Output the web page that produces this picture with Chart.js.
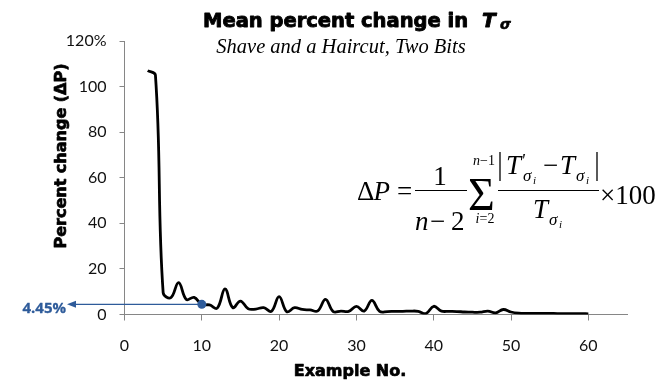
<!DOCTYPE html>
<html>
<head>
<meta charset="utf-8">
<script src="https://cdn.jsdelivr.net/npm/chart.js@4"></script>
<style>
  body { margin: 0; background: #fff; }
  #wrap { width: 669px; height: 382px; position: relative; }
</style>
</head>
<body>
<div id="wrap"><canvas id="chart" width="669" height="382"></canvas></div>
<script>
// values
const exampleNo = [3, 4, 5, 6, 7, 8, 9, 10, 11, 12,
  13, 14, 15, 16, 17, 18, 19, 20, 21, 22,
  23, 24, 25, 26, 27, 28, 29, 30, 31, 32,
  33, 34, 35, 36, 37, 38, 39, 40, 41, 42,
  43, 44, 45, 46, 47, 48, 49, 50, 51, 52,
  53, 54, 55, 56, 57, 58, 59, 60];
const pctChange = [107, 105, 9.6, 7.4, 14, 6.6, 7.5, 4.45, 4.2, 2.8,
  11.2, 3, 5.9, 2.5, 2.4, 3.0, 1.4, 7.8, 1.2, 3.0,
  2.2, 2.0, 1.6, 6.6, 1.3, 1.5, 1.4, 3.6, 1.5, 6.2,
  1.4, 1.3, 1.4, 1.4, 1.5, 1.4, 0.4, 3.6, 1.5, 1.4,
  1.3, 1.1, 1.0, 1.0, 1.5, 0.7, 2.2, 1.1, 0.6, 0.5,
  0.5, 0.5, 0.5, 0.4, 0.4, 0.4, 0.4, 0.3];
const markedNo = [10];
const markedPct = [4.45];
const markedLabel = "4.45%";
const xTickValues = [0, 10, 20, 30, 40, 50, 60];
const yTickValues = [0, 20, 40, 60, 80, 100, 120];
const yTickLabels = ["0", "20", "40", "60", "80", "100", "120%"];

const BLUE = "#2e5b9a";
const AXIS = "#868686";
const SERIF = '"Liberation Serif", "Times New Roman", serif';
const BOLD = 'bold 16px "DejaVu Sans", sans-serif';

function txt(ctx, s, x, y, font, align, heavy) {
  ctx.font = font;
  ctx.textAlign = align || "left";
  ctx.fillText(s, x, y);
  if (heavy) { ctx.lineWidth = heavy; ctx.strokeText(s, x, y); }
}

// draws several text pieces one after another, centred on cx
function runCentered(ctx, parts, cx, y) {
  let w = 0;
  parts.forEach(p => { ctx.font = p[1]; w += ctx.measureText(p[0]).width; });
  let x = cx - w / 2;
  ctx.textAlign = "left";
  parts.forEach(p => { ctx.font = p[1]; ctx.fillText(p[0], x, y); x += ctx.measureText(p[0]).width; });
}

function hline(ctx, x1, x2, y, w) {
  ctx.beginPath(); ctx.lineWidth = w; ctx.moveTo(x1, y); ctx.lineTo(x2, y); ctx.stroke();
}
function vline(ctx, x, y1, y2, w) {
  ctx.beginPath(); ctx.lineWidth = w; ctx.moveTo(x, y1); ctx.lineTo(x, y2); ctx.stroke();
}

const textPlugin = {
  id: "texts",
  beforeDatasetsDraw(chart) {
    // arrow from the marked point to the label
    const ctx = chart.ctx;
    const px = chart.scales.x.getPixelForValue(markedNo[0]);
    const py = chart.scales.y.getPixelForValue(markedPct[0]);
    ctx.save();
    ctx.strokeStyle = BLUE; ctx.fillStyle = BLUE;
    hline(ctx, 75, px, py, 1.3);
    ctx.beginPath();
    ctx.moveTo(67, py); ctx.lineTo(76, py - 3.5); ctx.lineTo(76, py + 3.5); ctx.closePath();
    ctx.fill();
    ctx.restore();
  },
  afterDraw(chart) {
    const ctx = chart.ctx;
    ctx.save();
    ctx.fillStyle = "#000";
    ctx.strokeStyle = "#000";
    ctx.textBaseline = "alphabetic";
    ctx.lineJoin = "round";

    // title
    txt(ctx, "Mean percent change in", 203, 27, 'bold 19.5px "DejaVu Sans", sans-serif', "left", 0.9);
    txt(ctx, "T", 482, 27, 'italic bold 20px "DejaVu Sans", sans-serif', "left", 0.9);
    txt(ctx, "σ", 500, 29, 'italic bold 14px "DejaVu Sans", sans-serif', "left", 0.6);
    // subtitle
    txt(ctx, "Shave and a Haircut, Two Bits", 341, 53, `italic 20.5px ${SERIF}`, "center");

    // axis titles
    txt(ctx, "Example No.", 350, 376, BOLD, "center", 0.7);
    ctx.save();
    ctx.translate(66, 156);
    ctx.rotate(-Math.PI / 2);
    txt(ctx, "Percent change (ΔP)", 0, 0, BOLD, "center", 0.7);
    ctx.restore();

    // marked value label
    ctx.fillStyle = BLUE;
    ctx.strokeStyle = BLUE;
    txt(ctx, markedLabel, 66, 313, 'bold 15px "Open Sans", sans-serif', "right", 0.3);
    ctx.fillStyle = "#000";
    ctx.strokeStyle = "#000";

    // formula
    const r27 = `27px ${SERIF}`, i27 = `italic 27px ${SERIF}`;
    const r14 = `14px ${SERIF}`, i14 = `italic 14px ${SERIF}`;
    const i17 = `italic 17px ${SERIF}`, i11 = `italic 11px ${SERIF}`;
    txt(ctx, "Δ", 357, 200, r27);
    txt(ctx, "P", 373.5, 200, i27);
    txt(ctx, "=", 397, 200, r27);
    txt(ctx, "1", 440, 185, r27, "center");
    hline(ctx, 415, 467, 190.5, 1.2);
    txt(ctx, "n", 415, 230, i27);
    txt(ctx, "−", 430, 230, r27);
    txt(ctx, "2", 451, 230, r27);
    txt(ctx, "Σ", 468, 210, `46px ${SERIF}`);
    runCentered(ctx, [["n", i14], ["−1", r14]], 484, 165);
    runCentered(ctx, [["i", i14], ["=2", r14]], 485, 223);
    vline(ctx, 500, 152, 181, 1.3);
    vline(ctx, 597, 152, 181, 1.3);
    txt(ctx, "T", 506, 174, i27);
    txt(ctx, "'", 521, 167, `italic 18px ${SERIF}`);
    txt(ctx, "σ", 523, 181, i17);
    txt(ctx, "i", 533, 184, i11);
    txt(ctx, "−", 543, 174, r27);
    txt(ctx, "T", 560, 174, i27);
    txt(ctx, "σ", 576, 181, i17);
    txt(ctx, "i", 586, 184, i11);
    hline(ctx, 498, 599, 190.5, 1.2);
    txt(ctx, "T", 533, 218, i27);
    txt(ctx, "σ", 549, 225, i17);
    txt(ctx, "i", 559, 228, i11);
    txt(ctx, "×100", 600, 204, r27);
    ctx.restore();
  }
};

new Chart(document.getElementById("chart"), {
  type: "line",
  data: {
    datasets: [
      {
        label: "marked",
        order: 0,
        data: markedNo.map((x, i) => ({ x: x, y: markedPct[i] })),
        showLine: false,
        pointRadius: 4.5,
        pointBackgroundColor: BLUE,
        pointBorderWidth: 0
      },
      {
        label: "Percent change",
        order: 1,
        data: exampleNo.map((x, i) => ({ x: x, y: pctChange[i] })),
        borderColor: "#000",
        borderWidth: 2.8,
        pointRadius: 0,
        tension: 0.4,
        fill: false
      }
    ]
  },
  options: {
    responsive: false,
    animation: false,
    events: [],
    layout: { padding: { top: 41, right: 42, bottom: 0, left: 0 } },
    plugins: { legend: { display: false }, tooltip: { enabled: false }, title: { display: false } },
    scales: {
      x: {
        type: "linear",
        min: 0,
        max: 65,
        afterBuildTicks: s => { s.ticks = xTickValues.map(v => ({ value: v })); },
        afterFit: s => { s.height = 67.5; },
        ticks: {
          autoSkip: false,
          maxRotation: 0,
          padding: 16,
          color: "#111",
          font: { family: "Lato", size: 16 },
          callback: v => String(v)
        },
        grid: { drawOnChartArea: false, drawTicks: true, tickLength: 6, color: AXIS },
        border: { color: AXIS, width: 1 }
      },
      y: {
        min: 0,
        max: 120,
        afterBuildTicks: s => { s.ticks = yTickValues.map(v => ({ value: v })); },
        afterFit: s => { s.width = 124.5; },
        ticks: {
          padding: 13,
          color: "#111",
          font: { family: "Lato", size: 16 },
          callback: v => yTickLabels[yTickValues.indexOf(v)]
        },
        grid: { drawOnChartArea: false, drawTicks: true, tickLength: 5, color: AXIS },
        border: { color: AXIS, width: 1 }
      }
    }
  },
  plugins: [textPlugin]
});
</script>
</body>
</html>
